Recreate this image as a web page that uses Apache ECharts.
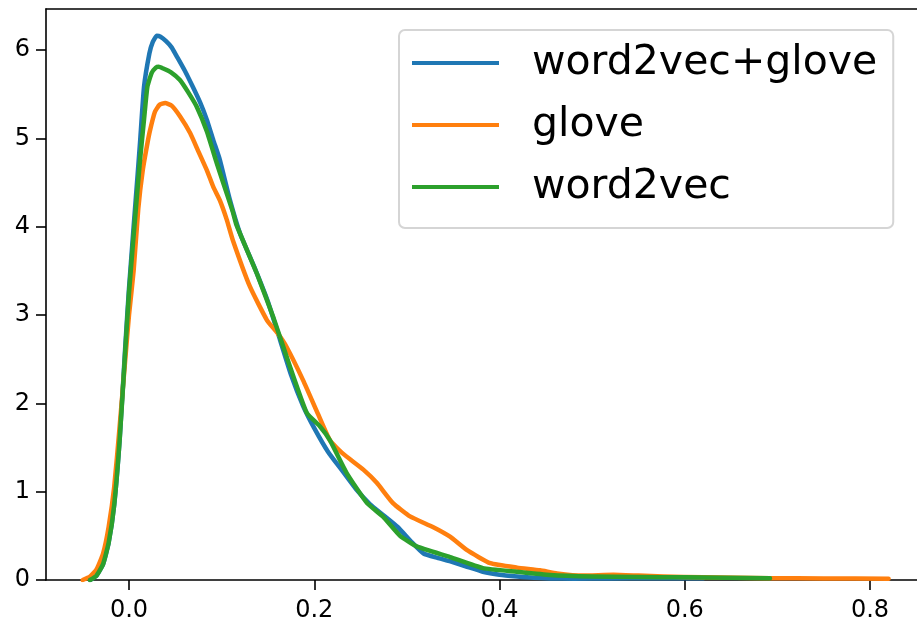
<!DOCTYPE html>
<html>
<head>
<meta charset="utf-8">
<script src="https://cdn.jsdelivr.net/npm/echarts@6/dist/echarts.min.js"></script>
<style>
  html, body { margin: 0; padding: 0; background: #fff; }
  #chart { width: 917px; height: 625px; }
</style>
</head>
<body>
<div id="chart"></div>
<script>
// tick labels
const xTicks = [0, 0.2, 0.4, 0.6, 0.8]
const yTicks = [0, 1, 2, 3, 4, 5, 6]
const seriesNames = ['word2vec+glove', 'glove', 'word2vec']

// word2vec+glove
const blueX = [-0.042, -0.035, -0.028, -0.022, -0.016, -0.010, -0.004, 0.0, 0.005, 0.0094, 0.0119, 0.0162, 0.022, 0.0256, 0.030, 0.034, 0.040, 0.046, 0.052, 0.060, 0.069, 0.077, 0.084, 0.091, 0.098, 0.109, 0.120, 0.135, 0.150, 0.163, 0.175, 0.188, 0.200, 0.215, 0.230, 0.245, 0.260, 0.275, 0.290, 0.305, 0.318, 0.333, 0.347, 0.365, 0.382, 0.400, 0.419, 0.437, 0.455, 0.480, 0.520, 0.560, 0.620]
const blueY = [0, 0.05, 0.18, 0.42, 0.85, 1.6, 2.65, 3.3, 4.0, 4.6, 4.95, 5.58, 5.96, 6.09, 6.16, 6.15, 6.10, 6.03, 5.92, 5.77, 5.58, 5.40, 5.21, 4.98, 4.76, 4.30, 3.92, 3.55, 3.15, 2.72, 2.32, 1.97, 1.72, 1.45, 1.24, 1.03, 0.86, 0.73, 0.60, 0.43, 0.30, 0.25, 0.21, 0.15, 0.094, 0.06, 0.04, 0.025, 0.018, 0.015, 0.018, 0.02, 0.02]

// glove
const orangeX = [-0.050, -0.042, -0.035, -0.028, -0.022, -0.016, -0.010, -0.004, 0.0, 0.005, 0.010, 0.015, 0.020, 0.0227, 0.028, 0.033, 0.039, 0.046, 0.055, 0.066, 0.075, 0.084, 0.091, 0.098, 0.1055, 0.112, 0.1306, 0.149, 0.160, 0.170, 0.188, 0.204, 0.217, 0.231, 0.253, 0.2675, 0.285, 0.3034, 0.328, 0.3466, 0.3646, 0.390, 0.419, 0.4437, 0.462, 0.490, 0.523, 0.550, 0.577, 0.620, 0.692, 0.750, 0.820]
const orangeY = [0, 0.04, 0.12, 0.30, 0.60, 1.05, 1.75, 2.5, 3.0, 3.5, 4.2, 4.65, 4.95, 5.09, 5.30, 5.38, 5.40, 5.37, 5.25, 5.06, 4.85, 4.64, 4.45, 4.30, 4.08, 3.85, 3.32, 2.94, 2.80, 2.64, 2.26, 1.88, 1.58, 1.43, 1.25, 1.10, 0.87, 0.72, 0.60, 0.49, 0.34, 0.19, 0.14, 0.11, 0.075, 0.05, 0.06, 0.05, 0.04, 0.03, 0.02, 0.018, 0.015]

// word2vec
const greenX = [-0.042, -0.035, -0.028, -0.022, -0.016, -0.010, -0.004, 0.0, 0.005, 0.0094, 0.0119, 0.0162, 0.0198, 0.0245, 0.029, 0.032, 0.037, 0.045, 0.055, 0.064, 0.073, 0.084, 0.0947, 0.1016, 0.112, 0.116, 0.138, 0.1556, 0.174, 0.192, 0.206, 0.217, 0.235, 0.257, 0.274, 0.2926, 0.3106, 0.3466, 0.382, 0.4186, 0.4545, 0.500, 0.550, 0.600, 0.692]
const greenY = [0, 0.05, 0.18, 0.42, 0.85, 1.6, 2.6, 3.25, 3.9, 4.45, 4.75, 5.21, 5.58, 5.74, 5.80, 5.81, 5.79, 5.75, 5.66, 5.52, 5.36, 5.08, 4.72, 4.50, 4.17, 4.02, 3.47, 2.98, 2.41, 1.89, 1.74, 1.58, 1.21, 0.87, 0.72, 0.50, 0.38, 0.26, 0.135, 0.094, 0.057, 0.04, 0.035, 0.03, 0.02]

const pairs = (xs, ys) => xs.map((x, i) => [x, ys[i]])

const font = 'DejaVu Sans'
const chart = echarts.init(document.getElementById('chart'))

const lineSeries = (name, xs, ys, color) => ({
  name: name,
  type: 'line',
  data: pairs(xs, ys),
  showSymbol: false,
  symbol: 'none',
  smooth: 0.15,
  lineStyle: { color: color, width: 4.5, join: 'round', cap: 'round' },
  itemStyle: { color: color }
})

const option = {
  animation: false,
  backgroundColor: '#fff',
  grid: { left: 46, right: 0, top: 9, bottom: 45 },
  legend: {
    orient: 'vertical',
    left: 399,
    top: 30,
    icon: 'rect',
    itemWidth: 87,
    itemHeight: 4,
    itemGap: 18,
    padding: [11, 16, 19, 13],
    borderColor: '#d5d5d5',
    borderWidth: 2,
    borderRadius: 6,
    textStyle: { fontFamily: font, fontSize: 41, color: '#000', lineHeight: 44, padding: [0, 0, 0, 28] },
    data: seriesNames
  },
  xAxis: [
    {
      type: 'value',
      min: -0.0896,
      max: 0.8507,
      axisLine: { show: true, onZero: false, lineStyle: { color: '#000', width: 1.6 } },
      axisTick: { show: true, length: 10, lineStyle: { color: '#000', width: 1.6 }, customValues: xTicks },
      axisLabel: {
        color: '#000', fontFamily: font, fontSize: 24, margin: 19,
        customValues: xTicks,
        formatter: v => v.toFixed(1)
      },
      splitLine: { show: false }
    },
    {
      type: 'value',
      position: 'top',
      min: -0.0896,
      max: 0.8507,
      axisLine: { show: true, onZero: false, lineStyle: { color: '#000', width: 1.6 } },
      axisTick: { show: false },
      axisLabel: { show: false },
      splitLine: { show: false }
    }
  ],
  yAxis: {
    type: 'value',
    min: 0,
    max: 6.464,
    axisLine: { show: true, onZero: false, lineStyle: { color: '#000', width: 1.6 } },
    axisTick: { show: true, length: 10, lineStyle: { color: '#000', width: 1.6 }, customValues: yTicks },
    axisLabel: {
      color: '#000', fontFamily: font, fontSize: 24, margin: 16,
      customValues: yTicks,
      formatter: v => String(Math.round(v))
    },
    splitLine: { show: false }
  },
  series: [
    lineSeries(seriesNames[0], blueX, blueY, '#1f77b4'),
    lineSeries(seriesNames[1], orangeX, orangeY, '#ff7f0e'),
    lineSeries(seriesNames[2], greenX, greenY, '#2ca02c')
  ]
}
chart.setOption(option)
window.addEventListener('resize', () => chart.resize())
</script>
</body>
</html>
